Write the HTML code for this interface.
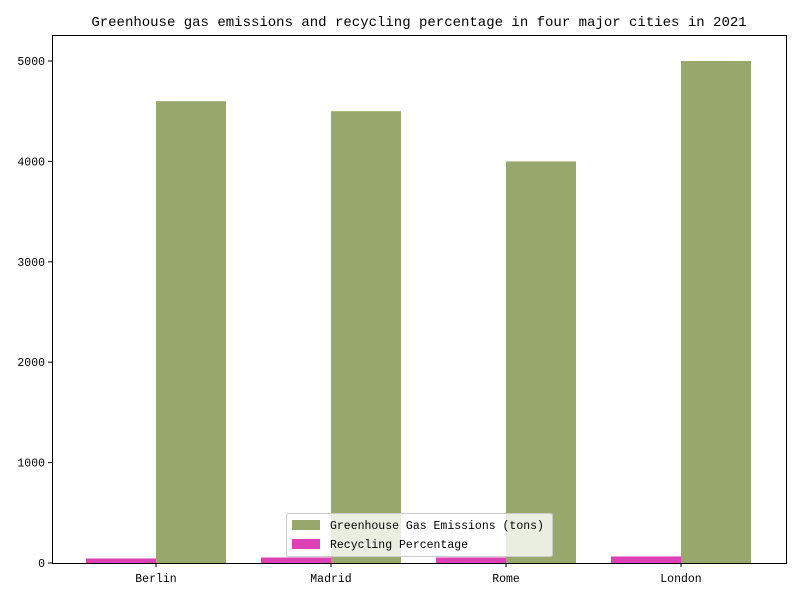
<!DOCTYPE html>
<html><head><meta charset="utf-8"><style>
body{margin:0;background:#fff}
svg text{font-family:"Liberation Mono","DejaVu Sans Mono",monospace;fill:#000}
</style></head><body>
<svg id="chart" width="800" height="600">
<text x="419" y="26" text-anchor="middle" font-size="14">Greenhouse gas emissions and recycling percentage in four major cities in 2021</text>
<g id="bars"></g>
<rect x="52.5" y="35.5" width="734" height="528" fill="none" stroke="#000" stroke-width="1"/>
<g id="axes"></g>
<g>
<rect x="286.5" y="513.5" width="266" height="43" rx="2" fill="#fff" fill-opacity="0.8" stroke="#ccc"/>
<rect x="292" y="520" width="28" height="10" fill="#98a86c"/>
<text x="330" y="529" font-size="11.5">Greenhouse Gas Emissions (tons)</text>
<rect x="292" y="539" width="28" height="10" fill="#dc40b4"/>
<text x="330" y="548" font-size="11.5">Recycling Percentage</text>
</g>
</svg>
<script>
const cities=["Berlin","Madrid","Rome","London"];
const emissions=[4600,4500,4000,5000];
const recycling=[45,55,55,65];
const yTicks=[0,1000,2000,3000,4000,5000];
const NS="http://www.w3.org/2000/svg";
const x0=156,step=175,bw=70;
function xc(i){return x0+i*step;}
function y(v){return 563-v*(502/5000);}
const bars=document.getElementById('bars'),axes=document.getElementById('axes');
function mk(t,a){const e=document.createElementNS(NS,t);for(const k in a)e.setAttribute(k,a[k]);return e;}
cities.forEach((c,i)=>{
 let r=mk('rect',{x:xc(i)-bw,y:y(recycling[i]),width:bw,height:563-y(recycling[i]),fill:'#dc40b4'});
 
 
 bars.appendChild(r);
 let g=mk('rect',{x:xc(i),y:y(emissions[i]),width:bw,height:563-y(emissions[i]),fill:'#98a86c'});
 
 
 bars.appendChild(g);
 let tk=mk('line',{x1:xc(i),x2:xc(i),y1:563,y2:567,stroke:'#000'});
 
 
 axes.appendChild(tk);
 let t=mk('text',{x:xc(i),y:582,'text-anchor':'middle','font-size':11.5});
 t.textContent=c;
 
 
 axes.appendChild(t);
});
yTicks.forEach(v=>{
 let tk=mk('line',{x1:48,x2:52,y1:y(v),y2:y(v),stroke:'#000'});
 
 
 axes.appendChild(tk);
 let t=mk('text',{x:45,y:y(v)+4,'text-anchor':'end','font-size':11.5});
 t.textContent=v;
 
 
 axes.appendChild(t);
});
</script>
</body></html>
